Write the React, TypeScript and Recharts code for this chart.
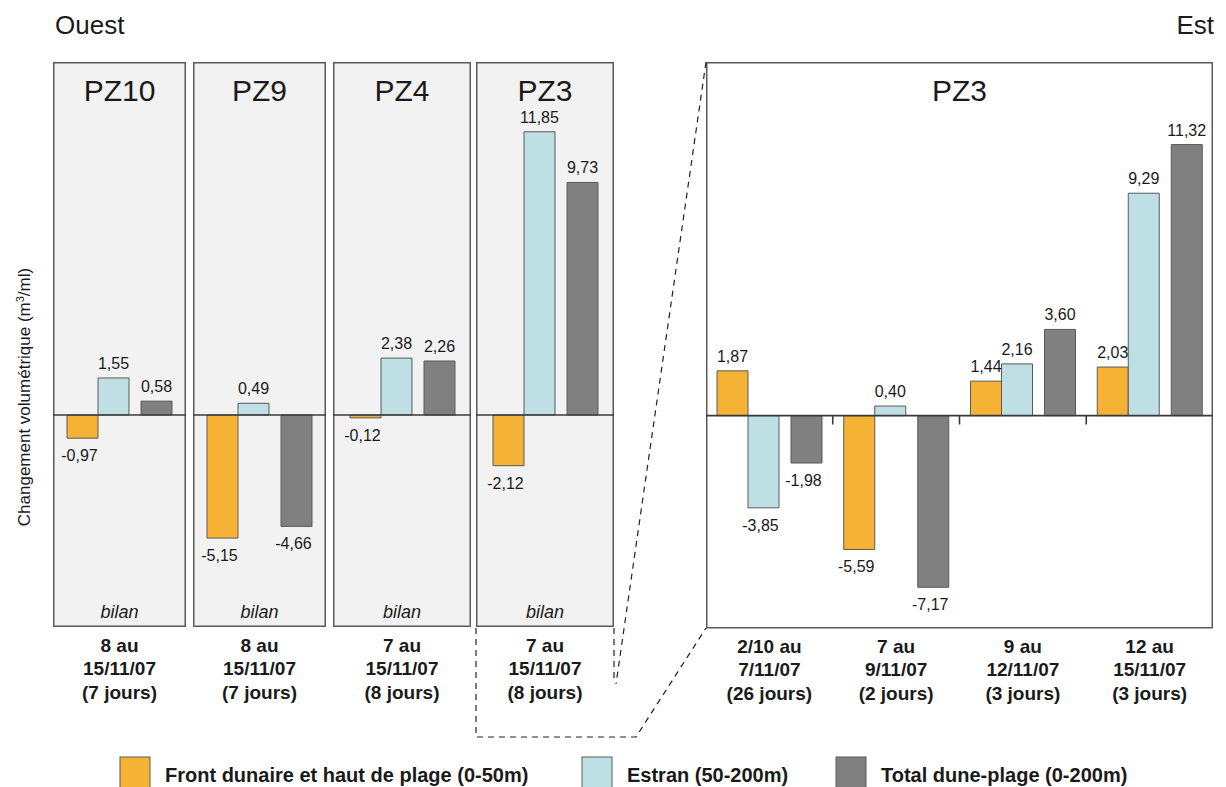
import React from 'react';
import {BarChart, Bar, XAxis, YAxis, ReferenceLine, LabelList} from 'recharts';

// séries (m3/ml)
const seriesNames = ['Front dunaire et haut de plage (0-50m)', 'Estran (50-200m)', 'Total dune-plage (0-200m)'];
const seriesColors = ['#F5B234', '#BEE0E4', '#808080'];

// bilans par profil (ouest -> est)
const profils = ['PZ10', 'PZ9', 'PZ4', 'PZ3'];
const bilanPeriodes = ['8 au\n15/11/07\n(7 jours)', '8 au\n15/11/07\n(7 jours)', '7 au\n15/11/07\n(8 jours)', '7 au\n15/11/07\n(8 jours)'];
const bilanFront = [-0.97, -5.15, -0.12, -2.12];
const bilanEstran = [1.55, 0.49, 2.38, 11.85];
const bilanTotal = [0.58, -4.66, 2.26, 9.73];

// détail PZ3
const pz3Periodes = ['2/10 au\n7/11/07\n(26 jours)', '7 au\n9/11/07\n(2 jours)', '9 au\n12/11/07\n(3 jours)', '12 au\n15/11/07\n(3 jours)'];
const pz3Front = [1.87, -5.59, 1.44, 2.03];
const pz3Estran = [-3.85, 0.40, 2.16, 9.29];
const pz3Total = [-1.98, -7.17, 3.60, 11.32];

const yDomain = [-8.87, 14.77];

const FONT = '"Liberation Sans", Arial, sans-serif';
const INK = '#1a1a1a';
const EDGE = '#5a5a5a';

const bilanData = profils.map((p, i) => ({
    periode: bilanPeriodes[i],
    front: bilanFront[i],
    estran: bilanEstran[i],
    total: bilanTotal[i],
}));

const pz3Data = pz3Periodes.map((p, i) => ({
    periode: p,
    front: pz3Front[i],
    estran: pz3Estran[i],
    total: pz3Total[i],
}));

// layout of the boxes
const PANEL_TOP = 62;
const PANEL_H = 565;
const AXIS_H = 95;
const smallLeft = [53, 193, 333, 476];
const smallWidth = [133, 133, 138, 138];
const bigLeft = 706;
const bigWidth = 507;

const fmt = (v: number) => v.toFixed(2).replace('.', ',');

function ValueLabel(props: any) {
    const {x, y, width, height, value} = props;
    if (value == null) return null;
    const top = Math.min(y, y + height);
    const bottom = Math.max(y, y + height);
    const cx = x + width / 2;
    const neg = value < 0;
    return (
        <text x={neg ? cx - 3 : cx} y={neg ? bottom + 23 : top - 9} textAnchor="middle"
              fontSize={16} fill={INK} fontFamily={FONT}>
            {fmt(value)}
        </text>
    );
}

function PeriodTick(props: any) {
    const {x, y, payload} = props;
    const lines = String(payload.value).split('\n');
    return (
        <text textAnchor="middle" fontSize={19} fontWeight="bold" fill={INK} fontFamily={FONT}>
            {lines.map((l, i) => <tspan key={i} x={x} y={y + 25 + i * 23.3}>{l}</tspan>)}
        </text>
    );
}

function Bars() {
    return [
        <Bar key="front" dataKey="front" fill={seriesColors[0]} stroke={EDGE} strokeWidth={1} barSize={31} isAnimationActive={false}>
            <LabelList dataKey="front" content={ValueLabel}/>
        </Bar>,
        <Bar key="estran" dataKey="estran" fill={seriesColors[1]} stroke={EDGE} strokeWidth={1} barSize={31} isAnimationActive={false}>
            <LabelList dataKey="estran" content={ValueLabel}/>
        </Bar>,
        <Bar key="gap" dataKey="gap" fill="none" barSize={12} isAnimationActive={false}/>,
        <Bar key="total" dataKey="total" fill={seriesColors[2]} stroke={EDGE} strokeWidth={1} barSize={31} isAnimationActive={false}>
            <LabelList dataKey="total" content={ValueLabel}/>
        </Bar>,
    ];
}

function SmallPanel({i}: {i: number}) {
    return (
        <div style={{position: 'absolute', left: smallLeft[i], top: PANEL_TOP}}>
            <BarChart width={smallWidth[i]} height={PANEL_H + AXIS_H} data={[bilanData[i]]}
                      margin={{top: 0, right: 0, bottom: 0, left: 0}} barGap={0}>
                <XAxis dataKey="periode" height={AXIS_H} axisLine={false} tickLine={false}
                       tickSize={0} tickMargin={0} tick={<PeriodTick/>} interval={0}/>
                <YAxis hide domain={yDomain} allowDataOverflow/>
                <ReferenceLine y={0} stroke="#3a3a3a" strokeWidth={1.6}/>
                {Bars()}
            </BarChart>
        </div>
    );
}

function BigPanel() {
    return (
        <div style={{position: 'absolute', left: bigLeft, top: PANEL_TOP}}>
            <BarChart width={bigWidth} height={PANEL_H + 1 + AXIS_H} data={pz3Data}
                      margin={{top: 0, right: 0, bottom: 0, left: 0}} barGap={0}>
                <XAxis dataKey="periode" height={AXIS_H} axisLine={false} tickLine={false}
                       tickSize={0} tickMargin={0} tick={<PeriodTick/>} interval={0}/>
                <YAxis hide domain={yDomain} allowDataOverflow/>
                <ReferenceLine y={0} stroke="#3a3a3a" strokeWidth={1.6}/>
                {pz3Periodes.slice(1).map(p => (
                    <ReferenceLine key={p} position="start" stroke="#3a3a3a" strokeWidth={1.6}
                                   segment={[{x: p, y: 0}, {x: p, y: -0.37}]}/>
                ))}
                {Bars()}
            </BarChart>
        </div>
    );
}

export default function App() {
    const legendX = [120, 582, 836];
    return (
        <div style={{position: 'absolute', left: 0, top: 0, width: 1226, height: 787, background: '#fff', fontFamily: FONT, overflow: 'hidden'}}>
            <svg width={1226} height={787} style={{position: 'absolute', left: 0, top: 0}}>
                {smallLeft.map((x, i) => (
                    <rect key={i} x={x + 0.75} y={PANEL_TOP + 0.75} width={smallWidth[i] - 1.5} height={PANEL_H - 1.5}
                          fill="#F2F2F2" stroke={EDGE} strokeWidth={1.5}/>
                ))}
                <rect x={bigLeft + 0.75} y={PANEL_TOP + 0.75} width={bigWidth - 1.5} height={PANEL_H}
                      fill="#fff" stroke={EDGE} strokeWidth={1.5}/>
            </svg>
            {profils.map((p, i) => <SmallPanel key={p} i={i}/>)}
            <BigPanel/>
            <svg width={1226} height={787} style={{position: 'absolute', left: 0, top: 0, pointerEvents: 'none'}}
                 fontFamily={FONT}>
                <text x={55} y={34} fontSize={26} fill={INK}>Ouest</text>
                <text x={1214} y={34} fontSize={26} fill={INK} textAnchor="end">Est</text>
                {profils.map((p, i) => (
                    <g key={p}>
                        <text x={smallLeft[i] + smallWidth[i] / 2} y={101} fontSize={30} fill={INK} textAnchor="middle">{p}</text>
                        <text x={smallLeft[i] + smallWidth[i] / 2} y={618} fontSize={18} fontStyle="italic" fill={INK} textAnchor="middle">bilan</text>
                    </g>
                ))}
                <text x={bigLeft + bigWidth / 2} y={101} fontSize={30} fill={INK} textAnchor="middle">PZ3</text>
                <text transform="translate(30,397) rotate(-90)" textAnchor="middle" fontSize={17} fill={INK}>
                    Changement volumétrique (m<tspan dy={-6} fontSize={11}>3</tspan><tspan dy={6}>/ml)</tspan>
                </text>
                <g stroke="#222" strokeWidth={1.2} strokeDasharray="6 5" fill="none">
                    <polyline points="476,628 476,737 636,737 706,628"/>
                    <line x1={614} y1={628} x2={614} y2={682}/>
                    <line x1={706} y1={62} x2={616} y2={684}/>
                </g>
                {seriesNames.map((n, i) => (
                    <g key={n}>
                        <rect x={legendX[i]} y={757} width={30} height={34} fill={seriesColors[i]} stroke={EDGE} strokeWidth={1}/>
                        <text x={legendX[i] + 45} y={782} fontSize={20} fontWeight="bold" fill={INK}>{n}</text>
                    </g>
                ))}
            </svg>
        </div>
    );
}
